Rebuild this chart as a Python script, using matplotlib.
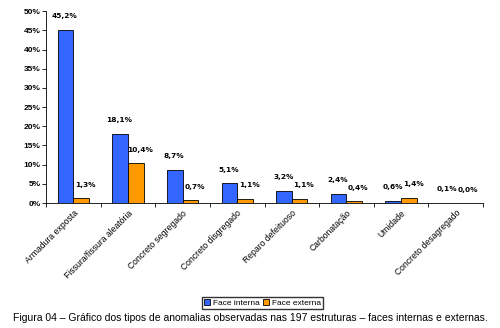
import matplotlib.pyplot as plt
import numpy as np

plt.rcParams['font.family'] = ['Liberation Sans', 'DejaVu Sans']

categorias = ['Armadura exposta', 'Fissura/fissura aleatória', 'Concreto segregado',
              'Concreto disgregado', 'Reparo defeituoso', 'Carbonatação', 'Umidade',
              'Concreto desagregado']
face_interna = [45.2, 18.1, 8.7, 5.1, 3.2, 2.4, 0.6, 0.1]
face_externa = [1.3, 10.4, 0.7, 1.1, 1.1, 0.4, 1.4, 0.0]

fig = plt.figure(figsize=(5, 3.28), dpi=100)
ax = fig.add_axes([0.092, 0.381, 0.874, 0.585])

x = np.arange(len(categorias))
w = 0.285
b1 = ax.bar(x - w / 2, face_interna, w, color='#3366FF', edgecolor='black', linewidth=0.6, label='Face interna')
b2 = ax.bar(x + w / 2, face_externa, w, color='#FF9900', edgecolor='black', linewidth=0.6, label='Face externa')

# rótulos de dados (Excel desloca um pouco os da série laranja)
for bars, vals, dx in [(b1, face_interna, -0.5), (b2, face_externa, 3)]:
    for bar, v in zip(bars, vals):
        ax.annotate(f'{v:.1f}%'.replace('.', ','),
                    (bar.get_x() + bar.get_width() / 2, v),
                    xytext=(dx, 7.5), textcoords='offset points',
                    ha='center', va='bottom', fontsize=5.3, fontweight='bold',
                    family='DejaVu Sans')

ax.set_xlim(-0.5, len(categorias) - 0.5)
ax.set_ylim(0, 50)
ax.set_yticks(range(0, 51, 5))
ax.set_yticklabels([f'{t}%' for t in range(0, 51, 5)], fontsize=6, fontweight='bold')
ax.set_xticks(x)
ax.set_xticklabels(categorias, rotation=45, ha='right', rotation_mode='anchor', fontsize=6.2)
ax.tick_params(axis='x', length=0, pad=4)
ax.set_xticks(np.arange(-0.5, len(categorias), 1), minor=True)
ax.tick_params(axis='x', which='minor', length=3, width=0.6)
ax.tick_params(axis='y', length=3, width=0.6, pad=1)
for s in ['top', 'right']:
    ax.spines[s].set_visible(False)
for s in ['left', 'bottom']:
    ax.spines[s].set_linewidth(0.6)

fig.legend(loc='center', bbox_to_anchor=(0.525, 0.076), ncol=2, fontsize=6,
           frameon=True, fancybox=False, edgecolor='black', handlelength=0.7,
           handleheight=0.7, handletextpad=0.3, columnspacing=0.5, borderpad=0.3)

fig.text(0.5, 0.015, 'Figura 04 – Gráfico dos tipos de anomalias observadas nas 197 estruturas – faces internas e externas.',
         ha='center', va='bottom', fontsize=7.5)

fig.savefig('out.png', dpi=100)
